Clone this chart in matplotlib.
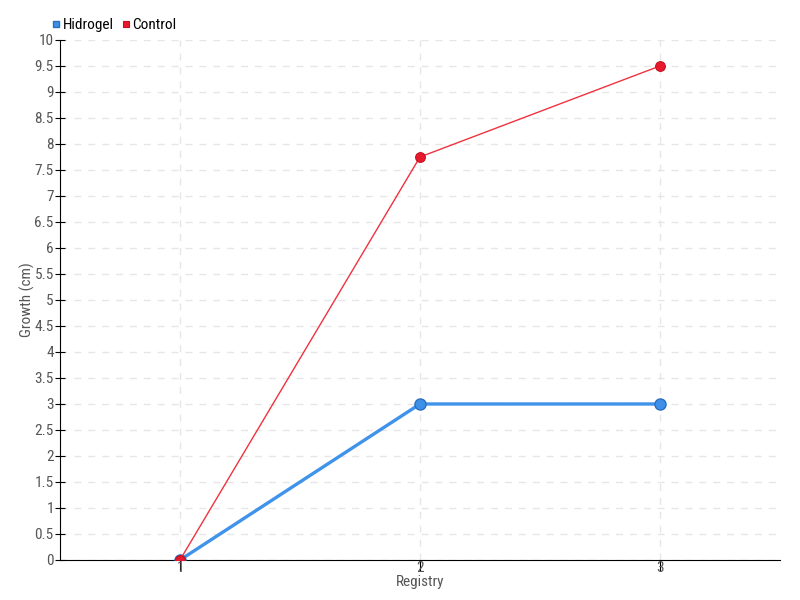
import matplotlib.pyplot as plt
import matplotlib.font_manager as fm

names = {f.name for f in fm.fontManager.ttflist}
fam = 'DejaVu Sans'
for cand in ['Liberation Sans Narrow', 'Roboto Condensed', 'Roboto']:
    if cand in names:
        fam = cand
        break
plt.rcParams['font.family'] = [fam, 'DejaVu Sans']

registry = [1, 2, 3]
hidrogel = [0, 3, 3]
control = [0, 7.75, 9.5]
yticks = [i * 0.5 for i in range(21)]
ylabels = ['%g' % v for v in yticks]

fig = plt.figure(figsize=(8, 6), dpi=100)
ax = fig.add_axes([0.075, 0.0667, 0.9, 0.8667])

ax.plot(registry, hidrogel, color='#4093ea', lw=2.4, marker='o', ms=8,
        mfc='#3d8fe8', mec='#2a6fc0', mew=1, label='Hidrogel', zorder=3)
ax.plot(registry, control, color='#f0323f', lw=1, marker='o', ms=7,
        mfc='#e8192c', mec='#c8101f', mew=0.8, label='Control', zorder=4)

ax.set_xlim(0.5, 3.5)
ax.set_ylim(0, 10)
ax.set_xticks(registry)
ax.set_yticks(yticks)
ax.set_yticklabels(ylabels)
ax.grid(True, color='#e6e6e6', ls=(0, (5, 5)), lw=1)
ax.set_axisbelow(True)
for s in ['top', 'right']:
    ax.spines[s].set_visible(False)
ax.spines['left'].set_color('black')
ax.spines['bottom'].set_color('black')
ax.tick_params(axis='y', direction='inout', length=7, labelsize=11, colors='#555555', pad=1)
ax.tick_params(axis='x', direction='out', length=8, labelsize=11, colors='#555555', pad=-7)
ax.tick_params(axis='both', color='black')
ax.set_xlabel('Registry', fontsize=11, color='#555555', labelpad=0)
ax.set_ylabel('Growth (cm)', fontsize=11, color='#555555')
ax.yaxis.set_label_coords(-0.035, 0.5)

leg = ax.legend(loc='lower left', bbox_to_anchor=(-0.02, 1.0), ncol=2, frameon=False,
                fontsize=11, markerscale=0.6, handlelength=0.4, handletextpad=0.2,
                columnspacing=0.6, borderaxespad=0.1)
for h in leg.legend_handles:
    h.set_linestyle('none')
    h.set_marker('s')

fig.savefig('out.png', dpi=100)
